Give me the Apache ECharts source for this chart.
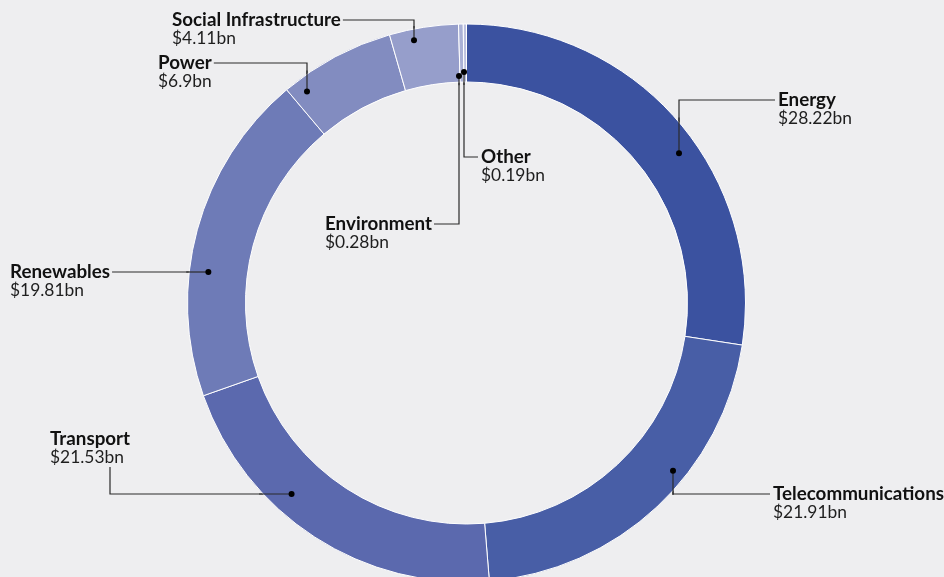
<!DOCTYPE html>
<html>
<head>
<meta charset="utf-8">
<script src="https://cdn.jsdelivr.net/npm/echarts@6/dist/echarts.min.js"></script>
<style>
  html, body { margin: 0; padding: 0; background: #eeeef0; }
  #chart { width: 944px; height: 577px; }
</style>
</head>
<body>
<div id="chart"></div>
<script>
// Infrastructure investment by sector, US$ billions
const sectors = ['Energy', 'Telecommunications', 'Transport', 'Renewables', 'Power', 'Social Infrastructure', 'Environment', 'Other'];
const investment = [28.22, 21.91, 21.53, 19.81, 6.9, 4.11, 0.28, 0.19];
const sectorColors = ['#3b52a0', '#485ea6', '#5b69ae', '#6e7bb7', '#828cc0', '#969ecb', '#aab1d6', '#bcc1df'];

// ring geometry
const CX = 466.5, CY = 303, R_IN = 221, R_OUT = 279;
const LEADER_COLOR = '#2a2a2a';

// callouts: top-left of the text block, the edge the leader leaves from,
// the lane of the leader's last straight run, and the radius where its dot sits
const callouts = [
  { text: [778, 91],  from: 'left',   lane: 'x', at: 679, r: 260 },
  { text: [773, 485], from: 'left',   lane: 'x', at: 673, r: 266 },
  { text: [50, 430],  from: 'bottom', lane: 'y', at: 494, r: 259, dx: 60 },
  { text: [10, 263],  from: 'right',  lane: 'y', at: 272, r: 260 },
  { text: [158, 54],  from: 'right',  lane: 'x', at: 307, r: 265 },
  { text: [172, 11],  from: 'right',  lane: 'x', at: 414, r: 268 },
  { text: [325, 215], from: 'right',  lane: 'x', at: 459, r: 227 },
  { text: [481, 148], from: 'left',   lane: 'x', at: 464, r: 231 }
];

// point on the callout's lane at distance r from the ring centre
function lanePoint(c, r) {
  if (c.lane === 'x') {
    const dx = c.at - CX;
    const dy = Math.sqrt(r * r - dx * dx);
    return [c.at, c.text[1] > CY ? CY + dy : CY - dy];
  }
  const dy = c.at - CY;
  const dx = Math.sqrt(r * r - dy * dy);
  return [c.text[0] < CX ? CX - dx : CX + dx, c.at];
}

// labels sitting in the hole get leaders that leave the ring inwards
function insideHole(c) {
  return Math.hypot(c.text[0] - CX, c.text[1] - CY) < R_IN;
}

const dots = callouts.map(c => lanePoint(c, c.r));
// stretch of each leader that runs across the ring, drawn above the sectors
const crossings = callouts.map(c => [lanePoint(c, c.r), lanePoint(c, insideHole(c) ? R_IN - 3 : R_OUT + 3)]);

const chart = echarts.init(document.getElementById('chart'), null, { renderer: 'canvas' });

chart.setOption({
  backgroundColor: '#eeeef0',
  animation: false,
  series: [{
    type: 'pie',
    silent: true,
    center: [CX, CY],
    radius: [R_IN, R_OUT],
    startAngle: 90,
    clockwise: true,
    avoidLabelOverlap: false,
    itemStyle: { borderColor: '#ffffff', borderWidth: 1 },
    data: sectors.map((name, i) => ({
      name: name,
      value: investment[i],
      itemStyle: { color: sectorColors[i] }
    })),
    label: {
      show: true,
      position: 'outside',
      formatter: p => `{n|${p.name}}\n{v|$${p.value}bn}`,
      rich: {
        n: { fontFamily: 'Lato', fontWeight: 'bold', fontSize: 18.8, color: '#111111', lineHeight: 18 },
        v: { fontFamily: 'Lato', fontSize: 17.4, color: '#1e1e1e', lineHeight: 18 }
      }
    },
    labelLine: { show: true, showAbove: true, smooth: false, lineStyle: { color: LEADER_COLOR, width: 1.2 } },
    labelLayout: function (params) {
      const c = callouts[params.dataIndex];
      const w = params.labelRect.width, h = params.labelRect.height;
      const [tx, ty] = c.text;
      let start;
      if (c.from === 'left') start = [tx - 3, ty + 9];
      else if (c.from === 'right') start = [tx + w + 2, ty + 9];
      else start = [tx + c.dx, ty + h + 1];
      const bend = c.lane === 'x' ? [c.at, start[1]] : [start[0], c.at];
      return {
        x: tx,
        y: ty,
        align: 'left',
        verticalAlign: 'top',
        labelLinePoints: [dots[params.dataIndex], bend, start]
      };
    }
  }],
  graphic: crossings.map(seg => ({
    type: 'line',
    silent: true,
    z: 99,
    shape: { x1: seg[0][0], y1: seg[0][1], x2: seg[1][0], y2: seg[1][1] },
    style: { stroke: LEADER_COLOR, lineWidth: 1.2 }
  })).concat(dots.map(p => ({
    type: 'circle',
    silent: true,
    z: 100,
    shape: { cx: p[0], cy: p[1], r: 3 },
    style: { fill: '#000000' }
  })))
});
</script>
</body>
</html>
